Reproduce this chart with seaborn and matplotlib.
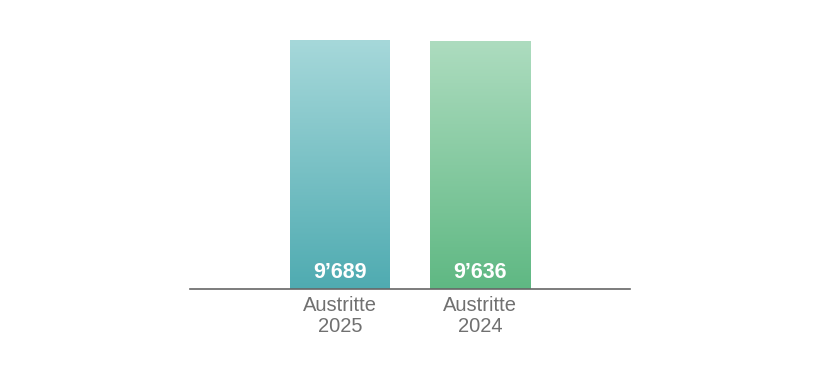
import numpy as np
import pandas as pd
import matplotlib
matplotlib.use("Agg")
import matplotlib.pyplot as plt
import seaborn as sns
from matplotlib.colors import LinearSegmentedColormap

categories = ["Austritte\n2025", "Austritte\n2024"]
values = [9689, 9636]
value_labels = ["9’689", "9’636"]
top_colors = ["#a6d8da", "#addcbf"]
bottom_colors = ["#4fabb1", "#5fb883"]

sns.set_theme(style="white")
plt.rcParams["font.family"] = ["Liberation Sans", "DejaVu Sans"]

fig = plt.figure(figsize=(8.2, 3.7), dpi=100)
ax = fig.add_axes([190 / 820, (370 - 289) / 370, 440 / 820, 259 / 370])

df = pd.DataFrame({"cat": categories, "val": values})
sns.barplot(data=df, x="cat", y="val", ax=ax, width=100 / 140, color="white",
            edgecolor="none", linewidth=0)

ymax = 9689 * 259 / 249
ax.set_ylim(0, ymax)
ax.set_xlim(-150 / 140, 1 + 150 / 140)

for i, p in enumerate(ax.patches):
    x0, y0 = p.get_x(), p.get_y()
    w, h = p.get_width(), p.get_height()
    cmap = LinearSegmentedColormap.from_list("g", [bottom_colors[i], top_colors[i]])
    grad = np.linspace(0, 1, 256).reshape(-1, 1)
    im = ax.imshow(grad, cmap=cmap, origin="lower", aspect="auto",
                   extent=[x0, x0 + w, y0, y0 + h], zorder=2)
    im.set_clip_path(p)
    ax.text(x0 + w / 2, ymax * (289 - 272) / 259, value_labels[i], ha="center", va="center",
            color="white", fontsize=15.5, fontweight="bold", zorder=3)

for s in ["top", "right", "left"]:
    ax.spines[s].set_visible(False)
ax.spines["bottom"].set_color("#666666")
ax.spines["bottom"].set_linewidth(1.2)
ax.set_yticks([])
ax.set_xlabel("")
ax.set_ylabel("")
ax.tick_params(axis="x", length=0, pad=5, labelsize=14.5, labelcolor="#707070")
for t in ax.get_xticklabels():
    t.set_linespacing(1.15)

fig.savefig("out.png", dpi=100)
